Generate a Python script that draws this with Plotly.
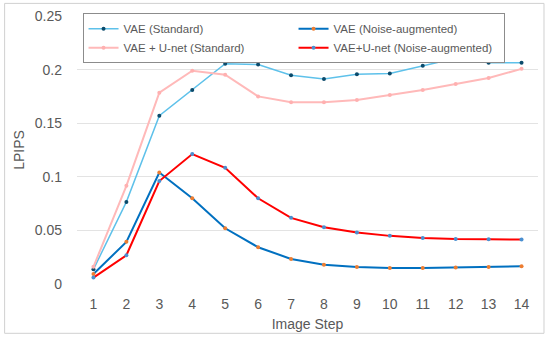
import plotly.graph_objects as go

steps = list(range(1, 15))
vae_std = [0.0137, 0.0766, 0.157, 0.181, 0.2055, 0.2047, 0.1948, 0.1913, 0.1957, 0.1963, 0.2037, 0.2106, 0.2063, 0.2065]
vae_noise = [0.0093, 0.0393, 0.104, 0.080, 0.052, 0.0343, 0.0234, 0.018, 0.0159, 0.015, 0.015, 0.0153, 0.0159, 0.0165]
unet_std = [0.016, 0.0916, 0.1785, 0.199, 0.1953, 0.175, 0.1695, 0.1695, 0.1717, 0.1764, 0.181, 0.1866, 0.1922, 0.2007]
unet_noise = [0.006, 0.0268, 0.096, 0.1212, 0.1084, 0.080, 0.0617, 0.053, 0.048, 0.0449, 0.043, 0.042, 0.0418, 0.0415]
y_ticks = [0, 0.05, 0.1, 0.15, 0.2, 0.25]
y_tick_text = ["0", "0.05", "0.1", "0.15", "0.2", "0.25"]

FONT = "Liberation Sans"
GRAY = "#595959"

fig = go.Figure()
fig.add_trace(go.Scatter(x=steps, y=vae_std, name="VAE (Standard)", mode="lines+markers",
                         line=dict(color="#5EC1EA", width=1.5),
                         marker=dict(color="#0B4A6B", size=4)))
fig.add_trace(go.Scatter(x=steps, y=vae_noise, name="VAE (Noise-augmented)", mode="lines+markers",
                         line=dict(color="#0070C0", width=2),
                         marker=dict(color="#ED7D31", size=4)))
fig.add_trace(go.Scatter(x=steps, y=unet_std, name="VAE + U-net (Standard)", mode="lines+markers",
                         line=dict(color="#FFB9B9", width=2),
                         marker=dict(color="#FFB0B0", size=4)))
fig.add_trace(go.Scatter(x=steps, y=unet_noise, name="VAE+U-net (Noise-augmented)", mode="lines+markers",
                         line=dict(color="#FF0000", width=2),
                         marker=dict(color="#4A8FD0", size=4)))

fig.update_layout(
    width=550, height=338,
    margin=dict(l=77, r=12, t=16, b=54, autoexpand=False),
    paper_bgcolor="white", plot_bgcolor="white",
    font=dict(family=FONT, color=GRAY, size=14),
    showlegend=True,
    legend=dict(orientation="h", x=0.012, y=1.01, xanchor="left", yanchor="top",
                bgcolor="white", bordercolor="#8C8C8C", borderwidth=1,
                font=dict(size=11.5, color=GRAY, family=FONT),
                entrywidth=165, itemwidth=30, tracegroupgap=0),
    xaxis=dict(range=[0.5, 14.5], tickmode="array", tickvals=steps,
               ticktext=[str(s) for s in steps], showgrid=False, zeroline=False,
               showline=False, ticks="", ticklabelstandoff=10, automargin=False,
               tickfont=dict(size=14, color=GRAY),
               title=dict(text="Image Step", font=dict(size=14, color=GRAY), standoff=8)),
    yaxis=dict(range=[0, 0.25], tickmode="array", tickvals=y_ticks, ticktext=y_tick_text,
               showgrid=True, gridcolor="#E3E3E3", gridwidth=1, zeroline=False,
               showline=False, ticks="", ticklabelstandoff=14, automargin=False,
               tickfont=dict(size=14, color=GRAY),
               title=dict(text="LPIPS", font=dict(size=14, color=GRAY), standoff=6)),
    shapes=[dict(type="rect", xref="paper", yref="paper", x0=-0.157, x1=1.013, y0=-0.184, y1=1.047,
                 line=dict(color="#D0D0D0", width=1), fillcolor="rgba(0,0,0,0)", layer="below")],
)

fig.write_html("out.html", config={"displayModeBar": False},
               post_script="document.body.style.margin='0';")
